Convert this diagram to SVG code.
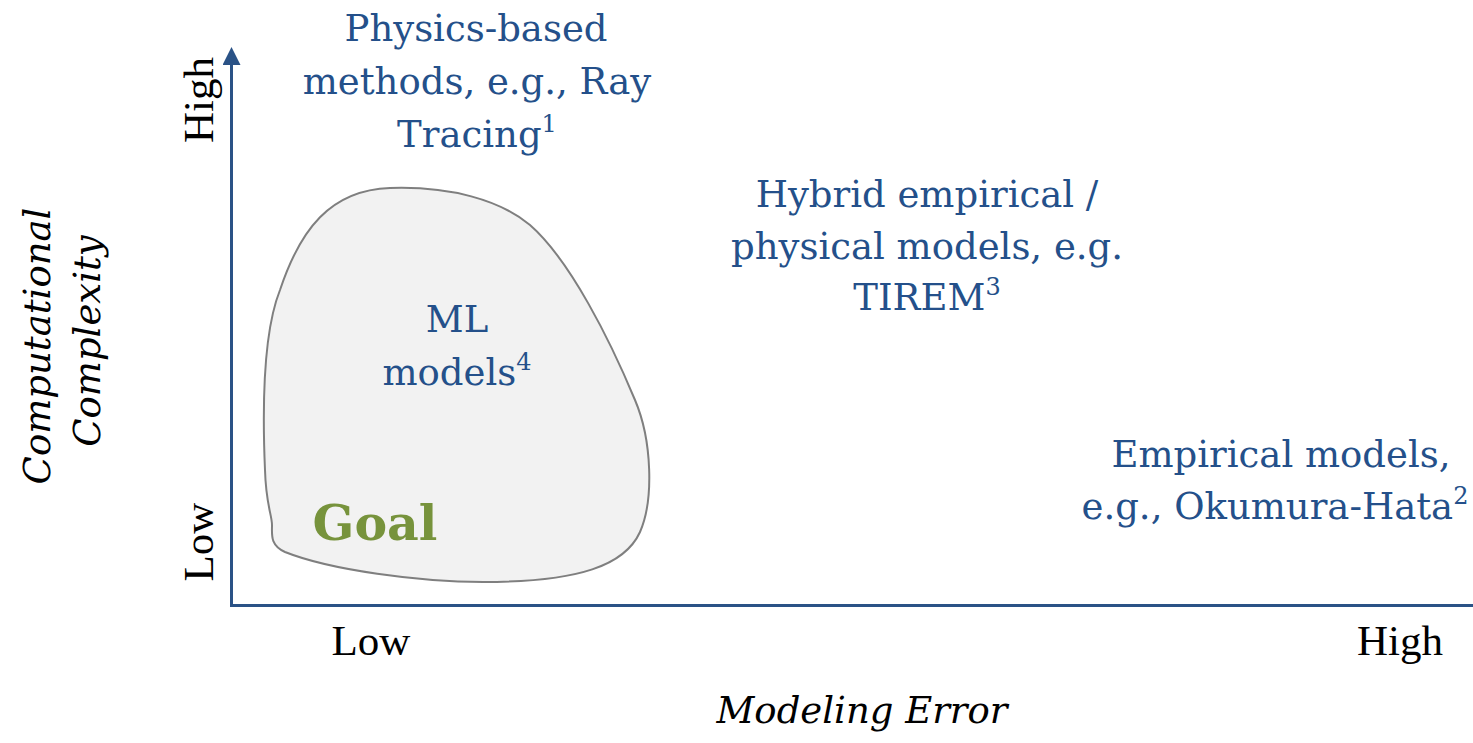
<svg xmlns="http://www.w3.org/2000/svg" width="1473" height="743" viewBox="0 0 1473 743">
<style>
.blue{font-family:"DejaVu Serif","Liberation Serif",serif;font-size:37px;fill:#24508a;text-anchor:middle}
.sup{font-size:24px}
.ax{font-family:"Liberation Serif",serif;font-size:43px;fill:#000;text-anchor:middle}
.title{font-family:"DejaVu Serif","Liberation Serif",serif;font-style:italic;font-size:37px;fill:#000;text-anchor:middle}
.axis{stroke:#2a5286;stroke-width:3;fill:none}
</style>
<defs>
<marker id="arr" markerWidth="6" markerHeight="6" refX="5" refY="3" orient="auto" markerUnits="strokeWidth">
<path d="M0,0 L6,3 L0,6 Z" fill="#2a5286"/>
</marker>
</defs>
<rect width="1473" height="743" fill="#fff"/>
<g id="goal-region">
<path d="M 390 188 C 450 186, 500 200, 530 225 C 570 260, 610 340, 635 400 C 652 440, 654 500, 640 532 C 625 565, 580 582, 483 582 C 420 582, 330 570, 285 552 C 270 545, 272 535, 272 525 C 272 515, 266 505, 265 470 C 262 400, 264 330, 280 290 C 300 230, 330 190, 390 188 Z" fill="#f2f2f2" stroke="#7f7f7f" stroke-width="2"/>
<text x="375" y="540" font-family="DejaVu Serif, Liberation Serif, serif" font-weight="bold" font-size="49" fill="#77933c" text-anchor="middle">Goal</text>
</g>
<g id="axes">
<line class="axis" x1="231.5" y1="607" x2="231.5" y2="50" marker-end="url(#arr)"/>
<line class="axis" x1="230" y1="605.5" x2="1473" y2="605.5"/>
</g>
<g id="ml-models">
<text class="blue" x="457" y="332">ML</text>
<text class="blue" x="457" y="385">models<tspan class="sup" dy="-15">4</tspan></text>
</g>
<g id="physics">
<text class="blue" x="476" y="41">Physics-based</text>
<text class="blue" x="477" y="94">methods, e.g., Ray</text>
<text class="blue" x="477" y="147">Tracing<tspan class="sup" dy="-15">1</tspan></text>
</g>
<g id="hybrid">
<text class="blue" x="927" y="207">Hybrid empirical /</text>
<text class="blue" x="927" y="259">physical models, e.g.</text>
<text class="blue" x="927" y="310">TIREM<tspan class="sup" dy="-15">3</tspan></text>
</g>
<g id="empirical">
<text class="blue" x="1281" y="467">Empirical models,</text>
<text class="blue" x="1275" y="519">e.g., Okumura-Hata<tspan class="sup" dy="-15">2</tspan></text>
</g>
<g id="labels">
<text class="ax" transform="translate(213,100) rotate(-90)">High</text>
<text class="ax" transform="translate(213,542) rotate(-90)">Low</text>
<text class="ax" x="371" y="655">Low</text>
<text class="ax" x="1400" y="655">High</text>
<text class="title" transform="translate(50,346) rotate(-90)">Computational</text>
<text class="title" transform="translate(100,341) rotate(-90)">Complexity</text>
<text class="title" x="862" y="723">Modeling Error</text>
</g>
</svg>
